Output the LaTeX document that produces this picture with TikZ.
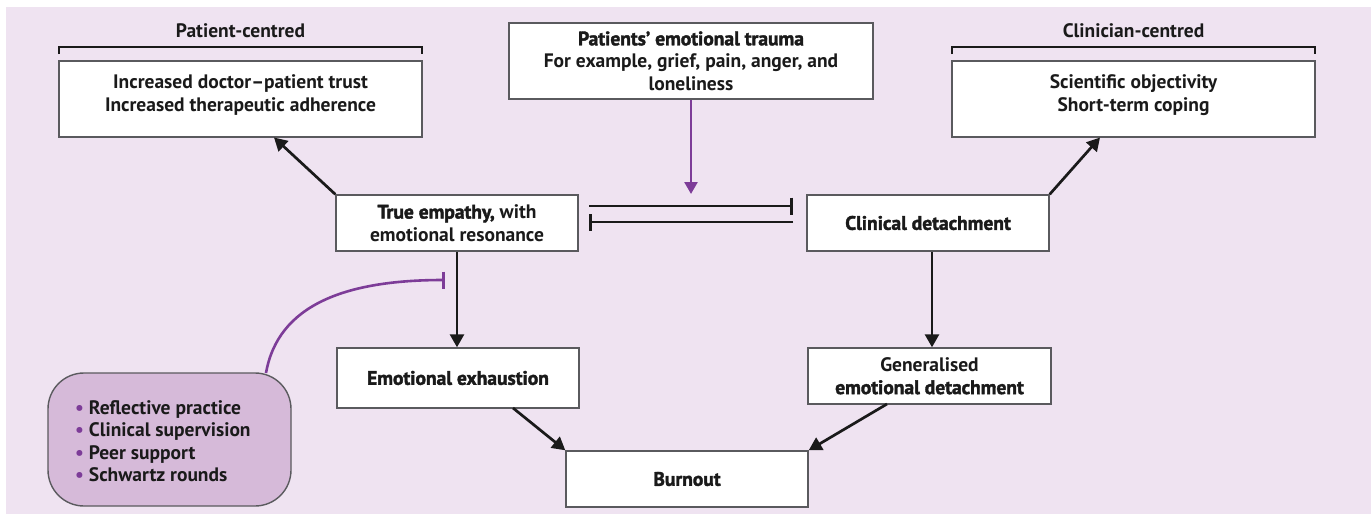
\documentclass[tikz,border=0pt]{standalone}
\usepackage{fontspec}
\setmainfont{PT Sans}
\newfontfamily\heavyfont{PT Sans}[BoldFeatures={FakeBold=2.0}]
\usetikzlibrary{arrows.meta}
\definecolor{bgc}{HTML}{EFE3F1}
\definecolor{boxc}{HTML}{5A5A5E}
\definecolor{ink}{HTML}{1A1A1A}
\definecolor{purp}{HTML}{7D3C98}
\definecolor{softp}{HTML}{D6BAD9}
\newcommand\mytext{\bfseries\fontsize{19.5}{22.5}\selectfont}
\newcommand\hv[1]{{\heavyfont\bfseries #1}}
\tikzset{
  box/.style={draw=boxc, line width=1.4pt, fill=white, align=center, inner sep=0pt, font=\mytext, text=ink},
  lbl/.style={font=\mytext, text=ink, inner sep=0pt},
  arr/.style={draw=ink, line width=2.7pt, -{Triangle[length=13pt,width=14pt]}},
  inh/.style={draw=ink, line width=2.8pt, -{Bar[width=17pt]}},
  parr/.style={draw=purp, line width=2.6pt, -{Triangle[length=12pt,width=13pt]}},
  pinh/.style={draw=purp, line width=2.6pt, -{Bar[width=17pt]}},
  brk/.style={draw=ink, line width=1.5pt}
}
\begin{document}
\begin{tikzpicture}[x=1pt,y=-1pt]
\useasboundingbox (0,0) rectangle (1371,514);
\fill[bgc] (6,7) rectangle (1371,514);

% top labels and brackets
\node[lbl] (pc) at (240.5,31) {Patient-centred};
\node[lbl] (cc) at (1133.5,31) {Clinician-centred};
\draw[brk] (59,54) -- (59,47) -- (422,47) -- (422,54);
\draw[brk] (952,54) -- (952,47) -- (1315,47) -- (1315,54);

% boxes
\node[box, minimum width=363pt, minimum height=76pt] (pat) at (240.5,99) {};
\node[lbl, align=center] (pattext) at (240.5,95)
  {Increased doctor–patient trust\\Increased therapeutic adherence};
\node[box, minimum width=363pt, minimum height=76pt] (cli) at (1133.5,99) {};
\node[lbl, align=center] (clitext) at (1133.5,95)
  {Scientific objectivity\\Short-term coping};
\node[box, minimum width=364pt, minimum height=76pt] (trauma) at (691,61)
  {\hv{Patients’ emotional trauma}\\For example, grief, pain, anger, and\\loneliness};
\node[box, minimum width=242pt, minimum height=56pt] (emp) at (457,223)
  {\hv{True empathy,} with\\emotional resonance};
\node[box, minimum width=242pt, minimum height=56pt] (det) at (928,223)
  {\hv{Clinical detachment}};
\node[box, minimum width=242pt, minimum height=60pt] (exh) at (458,378)
  {\hv{Emotional exhaustion}};
\node[box, minimum width=243pt, minimum height=56pt] (gen) at (929.5,376)
  {Generalised\\\hv{emotional detachment}};
\node[box, minimum width=242pt, minimum height=56pt] (burn) at (687,479)
  {\hv{Burnout}};

% support box
\node[draw=boxc, line width=1.4pt, fill=softp, rounded corners=36pt,
      minimum width=243pt, minimum height=133pt, inner sep=0pt] (sup) at (169.5,439.5) {};
\node[lbl, anchor=west, align=left] (suptext) at (75,441)
  {\textcolor{purp}{•} Reflective practice\\
   \textcolor{purp}{•} Clinical supervision\\
   \textcolor{purp}{•} Peer support\\
   \textcolor{purp}{•} Schwartz rounds};

% coordinates for free ends
\coordinate (u1) at (589,206);
\coordinate (u2) at (793,206);
\coordinate (l1) at (793,222);
\coordinate (l2) at (589,222);
\coordinate (ptip) at (691,194);
\coordinate (pbar) at (445,280);

% connectors
\draw[arr] (emp.north west) -- (274,137.5);
\draw[arr] (det.north east) -- (1100,137.5);
\draw[inh] (u1) -- (u2);
\draw[inh] (l1) -- (l2);
\draw[parr] (trauma.south -| ptip) -- (ptip);
\draw[arr] (emp.south) -- (exh.north -| emp.south);
\draw[arr] (det.south -| 932,0) -- (gen.north -| 932,0);
\draw[arr] (513,408) -- (burn.north west);
\draw[arr] (887,404) -- (burn.north east);
\draw[pinh] (266,373) .. controls (278,305) and (345,280) .. (pbar);
\end{tikzpicture}
\end{document}
